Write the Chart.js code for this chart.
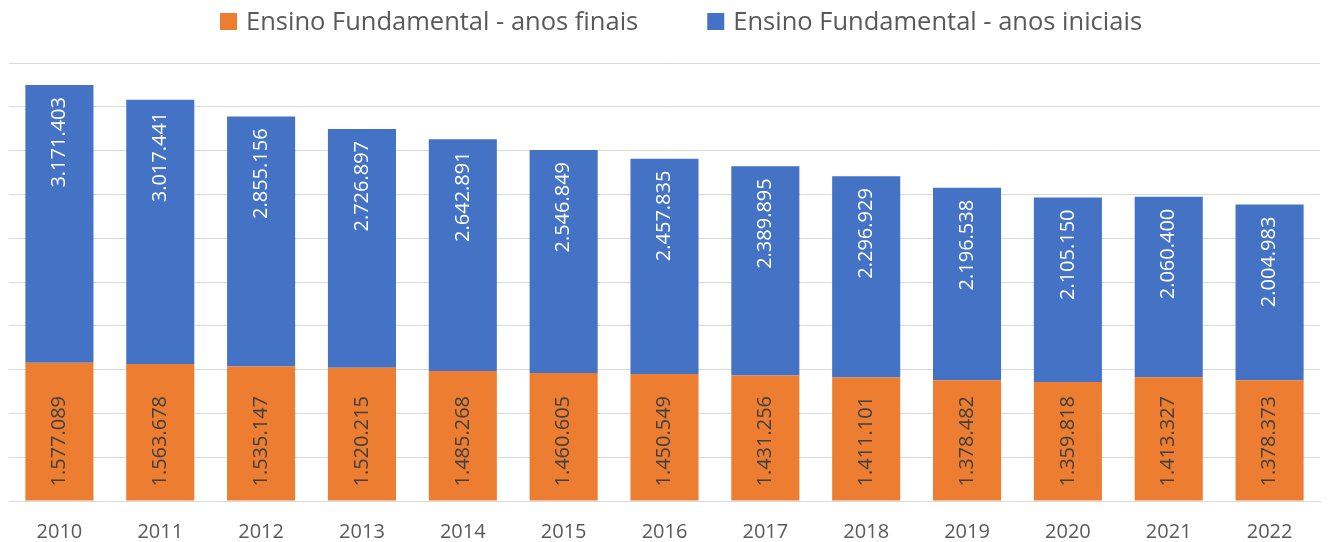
<!DOCTYPE html>
<html lang="pt-BR">
<head>
    <meta charset="UTF-8">
    <title>Ensino Fundamental</title>
    <script src="https://cdn.jsdelivr.net/npm/chart.js"></script>
    <style>
        body { margin: 0; padding: 0; background: #ffffff; }
        .wrap { width: 1330px; height: 542px; position: relative; }
    </style>
</head>
<body>
<div class="wrap">
    <canvas id="chart"></canvas>
</div>
<script>
    const years = ['2010', '2011', '2012', '2013', '2014', '2015', '2016', '2017', '2018', '2019', '2020', '2021', '2022'];
    const anosFinais = [1577089, 1563678, 1535147, 1520215, 1485268, 1460605, 1450549, 1431256, 1411101, 1378482, 1359818, 1413327, 1378373];
    const anosIniciais = [3171403, 3017441, 2855156, 2726897, 2642891, 2546849, 2457835, 2389895, 2296929, 2196538, 2105150, 2060400, 2004983];

    const FONT = '"Open Sans", Lato, sans-serif';
    const TEXT_GRAY = '#595959';

    function fmt(n) {
        return String(n).replace(/\B(?=(\d{3})+(?!\d))/g, '.');
    }

    // rotated value labels inside the bars
    const barLabels = {
        id: 'barLabels',
        afterDatasetsDraw(chart) {
            const ctx = chart.ctx;
            ctx.save();
            ctx.font = '20px ' + FONT;
            ctx.textBaseline = 'middle';
            chart.data.datasets.forEach((ds, di) => {
                const meta = chart.getDatasetMeta(di);
                meta.data.forEach((bar, i) => {
                    ctx.save();
                    if (di === 0) {
                        ctx.translate(bar.x, bar.base - 14);
                        ctx.textAlign = 'left';
                        ctx.fillStyle = '#404040';
                    } else {
                        ctx.translate(bar.x, bar.y + 12);
                        ctx.textAlign = 'right';
                        ctx.fillStyle = '#ffffff';
                    }
                    ctx.rotate(-Math.PI / 2);
                    ctx.fillText(fmt(ds.data[i]), 0, 0);
                    ctx.restore();
                });
            });
            ctx.restore();
        }
    };

    // legend drawn in Excel style: square markers, wide gap between entries
    const topLegend = {
        id: 'topLegend',
        afterDraw(chart) {
            const ctx = chart.ctx;
            const box = 17, gapText = 9, gapItem = 69;
            ctx.save();
            ctx.font = '25.5px ' + FONT;
            ctx.textBaseline = 'alphabetic';
            ctx.textAlign = 'left';
            const items = chart.data.datasets.map(ds => ({
                label: ds.label,
                color: ds.backgroundColor,
                w: ctx.measureText(ds.label).width
            }));
            let total = 0;
            items.forEach((it, i) => {
                total += box + gapText + it.w + (i < items.length - 1 ? gapItem : 0);
            });
            let x = Math.round(681 - total / 2);
            items.forEach(it => {
                ctx.fillStyle = it.color;
                ctx.fillRect(x, 13, box, box);
                ctx.fillStyle = TEXT_GRAY;
                ctx.fillText(it.label, x + box + gapText, 30);
                x += box + gapText + it.w + gapItem;
            });
            ctx.restore();
        }
    };

    new Chart(document.getElementById('chart'), {
        type: 'bar',
        data: {
            labels: years,
            datasets: [
                {
                    label: 'Ensino Fundamental - anos finais',
                    data: anosFinais,
                    backgroundColor: '#ED7D31',
                    borderWidth: 0,
                    barPercentage: 0.675,
                    categoryPercentage: 1
                },
                {
                    label: 'Ensino Fundamental - anos iniciais',
                    data: anosIniciais,
                    backgroundColor: '#4472C4',
                    borderWidth: 0,
                    barPercentage: 0.675,
                    categoryPercentage: 1
                }
            ]
        },
        options: {
            responsive: true,
            maintainAspectRatio: false,
            animation: false,
            layout: { padding: { left: 9, right: 10, top: 63, bottom: 0 } },
            scales: {
                x: {
                    stacked: true,
                    grid: { display: false },
                    border: { display: true, color: '#d9d9d9', width: 1 },
                    ticks: { color: TEXT_GRAY, font: { size: 20, family: FONT }, padding: 11 },
                    afterFit(scale) { scale.height = 41; }
                },
                y: {
                    stacked: true,
                    min: 0,
                    max: 5000000,
                    ticks: { display: false, stepSize: 500000 },
                    grid: { color: '#d9d9d9', lineWidth: 1, drawTicks: false },
                    border: { display: false }
                }
            },
            plugins: {
                legend: { display: false },
                tooltip: { enabled: false }
            }
        },
        plugins: [barLabels, topLegend]
    });
</script>
</body>
</html>
